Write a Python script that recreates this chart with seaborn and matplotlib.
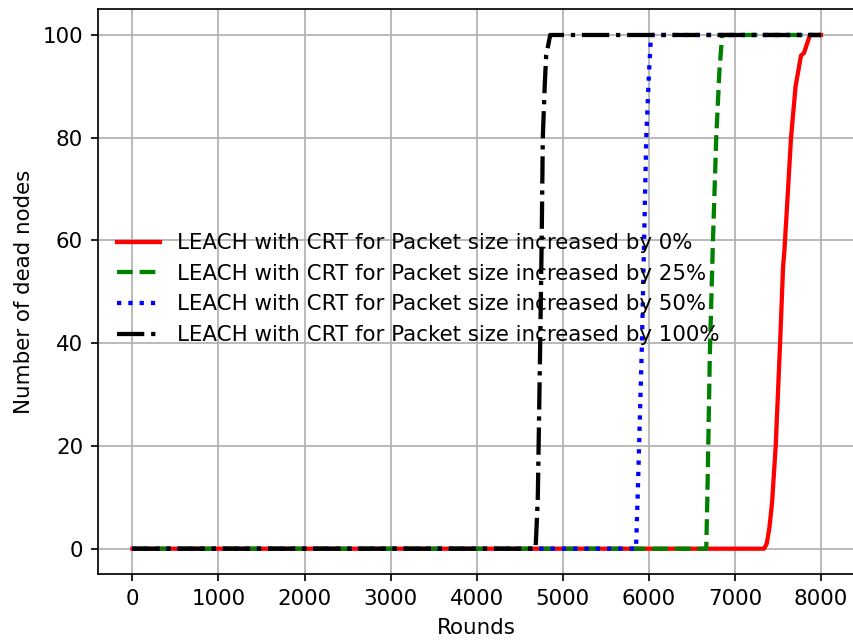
import numpy as np
import pandas as pd
import seaborn as sns
import matplotlib.pyplot as plt

# rounds vs number of dead nodes
x_0 = [0, 7339, 7370, 7400, 7432, 7474, 7525, 7560, 7575, 7600, 7652, 7705, 7768, 7803, 7872, 8000]
y_0 = [0, 0, 1, 4, 9, 20, 40, 55, 58, 65, 80, 90, 96, 96.5, 100, 100]

x_25 = [0, 6667, 6680, 6709, 6745, 6783, 6820, 6852, 8000]
y_25 = [0, 0, 10, 38, 60, 80, 93, 100, 100]

x_50 = [0, 5851, 5870, 5920, 5945, 5970, 6000, 6025, 8000]
y_50 = [0, 0, 10, 40, 60, 80, 92, 100, 100]

x_100 = [0, 4684, 4695, 4710, 4738, 4755, 4768, 4790, 4807, 4854, 8000]
y_100 = [0, 0, 4, 10, 40, 60, 80, 90, 96, 100, 100]

labels = ["LEACH with CRT for Packet size increased by 0%",
          "LEACH with CRT for Packet size increased by 25%",
          "LEACH with CRT for Packet size increased by 50%",
          "LEACH with CRT for Packet size increased by 100%"]

dpi = 153.5
fig, ax = plt.subplots(figsize=(853 / dpi, 642 / dpi), dpi=dpi)

sns.lineplot(x=x_0, y=y_0, color="red", linestyle="-", lw=2, label=labels[0], ax=ax, sort=False)
sns.lineplot(x=x_25, y=y_25, color="green", linestyle="--", lw=2, label=labels[1], ax=ax, sort=False)
sns.lineplot(x=x_50, y=y_50, color="blue", linestyle=":", lw=2, label=labels[2], ax=ax, sort=False)
sns.lineplot(x=x_100, y=y_100, color="black", linestyle="-.", lw=2, label=labels[3], ax=ax, sort=False)

ax.set_xlabel("Rounds")
ax.set_ylabel("Number of dead nodes")
ax.set_xticks(np.arange(0, 8001, 1000))
ax.set_yticks(np.arange(0, 101, 20))
ax.grid(True)
ax.legend(loc="center left", frameon=False, bbox_to_anchor=(0.0, 0.505))

fig.subplots_adjust(left=98 / 853, right=855.4 / 853, top=1 - 9.3 / 642, bottom=1 - 574.4 / 642)
plt.savefig("out.png")
